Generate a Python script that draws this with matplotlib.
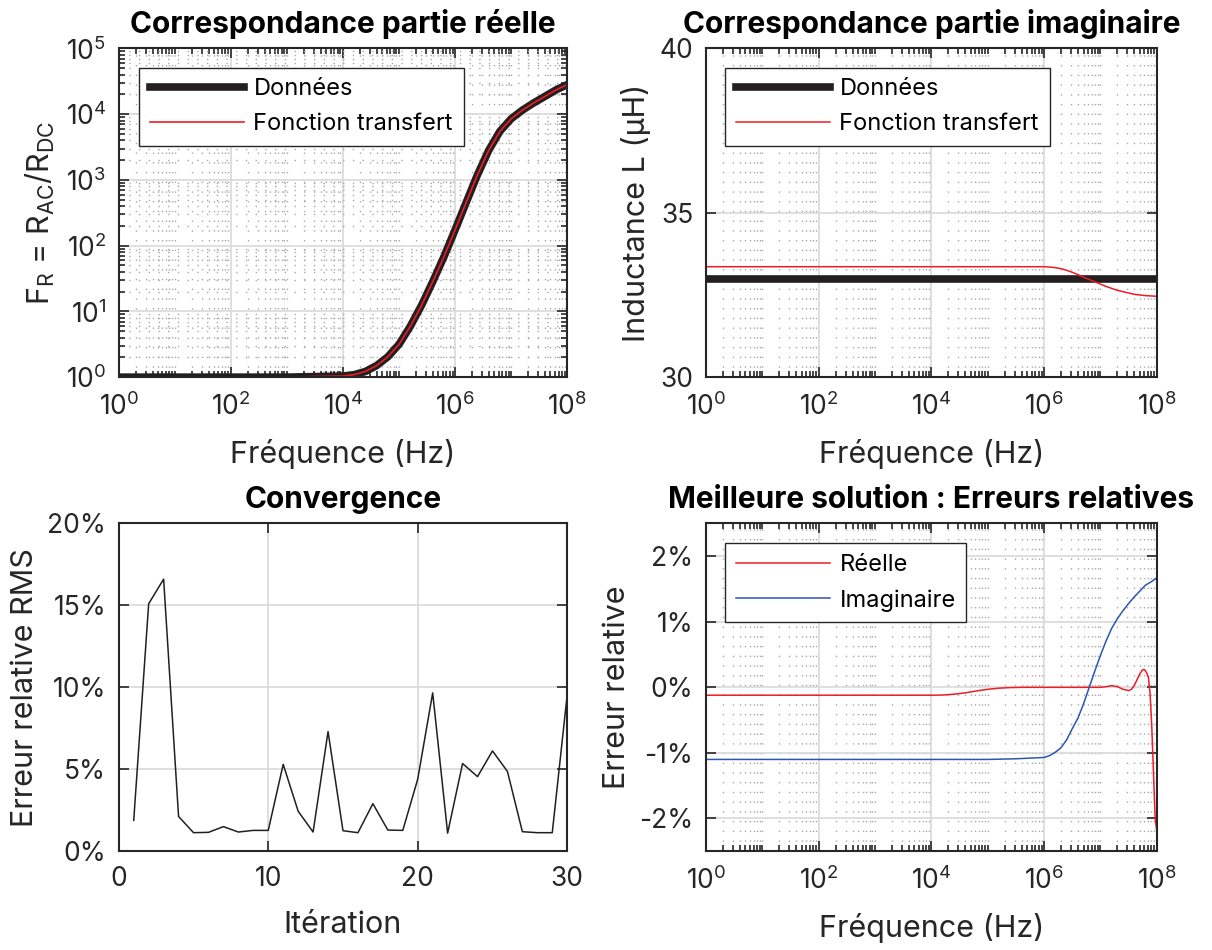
import matplotlib
matplotlib.use('Agg')
import matplotlib.pyplot as plt
from matplotlib.ticker import LogLocator, FuncFormatter, NullFormatter, FixedLocator

plt.rcParams['font.family'] = ['Inter', 'Liberation Sans', 'DejaVu Sans']
plt.rcParams['mathtext.default'] = 'regular'

# --- donnees ---
# partie reelle F_R = Rac/Rdc
f_reel = [1, 10, 100, 1e3, 1e4, 1.58e4, 2.51e4, 3.98e4, 6.31e4, 1e5, 1.58e5, 2.51e5,
          3.98e5, 6.31e5, 1e6, 1.58e6, 2.51e6, 3.98e6, 6.31e6, 1e7, 1.58e7, 2.51e7,
          3.98e7, 6.31e7, 1e8]
fr_donnees = [1.0, 1.0, 1.0, 1.0, 1.04, 1.09, 1.22, 1.50, 2.04, 3.16, 5.89, 12.3,
              28.2, 67.6, 174, 457, 1200, 2820, 5500, 8510, 11500, 14800,
              18600, 23400, 28200]
fr_fonction = [1.0, 1.0, 1.0, 1.0, 1.04, 1.09, 1.22, 1.50, 2.04, 3.16, 5.89, 12.3,
               28.2, 67.6, 174, 457, 1200, 2820, 5500, 8510, 11500, 14800,
               18600, 23400, 28200]

# partie imaginaire : inductance (uH)
f_l_donnees = [1, 1e8]
l_donnees = [33.0, 33.0]
f_l_fonction = [1, 1e2, 1e4, 1e6, 1.26e6, 1.58e6, 2.0e6, 2.51e6, 3.16e6, 3.98e6,
                5.01e6, 6.31e6, 7.94e6, 1e7, 1.26e7, 1.58e7, 2.0e7, 2.51e7, 3.16e7,
                3.98e7, 5.01e7, 6.31e7, 7.94e7, 1e8]
l_fonction = [33.36, 33.36, 33.36, 33.36, 33.35, 33.33, 33.30, 33.25, 33.19, 33.12,
              33.04, 32.97, 32.90, 32.83, 32.76, 32.70, 32.64, 32.60, 32.56,
              32.52, 32.50, 32.48, 32.47, 32.46]

# convergence (erreur RMS en %)
iterations = list(range(1, 31))
erreur_rms = [1.88, 15.1, 16.6, 2.12, 1.13, 1.15, 1.5, 1.17, 1.27, 1.27,
              5.3, 2.44, 1.17, 7.3, 1.25, 1.13, 2.9, 1.29, 1.27, 4.4,
              9.66, 1.1, 5.35, 4.55, 6.12, 4.87, 1.19, 1.13, 1.13, 9.56]

# erreurs relatives de la meilleure solution (%)
f_err_re = [1, 1e2, 1e4, 1.58e4, 2.51e4, 3.98e4, 6.31e4, 1e5, 1.58e5, 2.51e5, 3.98e5,
            1e6, 1e7, 1.26e7, 1.58e7, 2.0e7, 2.51e7, 3.16e7, 3.55e7, 3.98e7, 4.47e7,
            5.01e7, 5.62e7, 6.03e7, 6.61e7, 7.08e7, 7.59e7, 8.13e7, 8.71e7, 9.33e7, 1e8]
err_re = [-0.12, -0.12, -0.12, -0.118, -0.105, -0.085, -0.055, -0.03, -0.013, -0.004,
          0.0, 0.0, 0.0, 0.01, 0.025, 0.01, -0.03, -0.05, -0.03, 0.03, 0.12,
          0.21, 0.27, 0.27, 0.22, 0.15, -0.1, -0.6, -1.3, -2.0, -2.2]
f_err_im = [1, 1e2, 1e4, 1e5, 3.16e5, 1e6, 1.26e6, 1.58e6, 2.0e6, 2.51e6, 3.16e6,
            3.98e6, 5.01e6, 6.31e6, 7.94e6, 1e7, 1.26e7, 1.58e7, 2.0e7, 2.51e7,
            3.16e7, 3.98e7, 5.01e7, 6.31e7, 7.94e7, 1e8]
err_im = [-1.10, -1.10, -1.10, -1.10, -1.09, -1.07, -1.04, -0.99, -0.92, -0.80,
          -0.63, -0.47, -0.25, 0.0, 0.25, 0.49, 0.71, 0.90, 1.05, 1.17,
          1.28, 1.38, 1.47, 1.56, 1.61, 1.67]

GRIS = '#262626'
ROUGE = '#ee1c25'
BLEU = '#2c56b0'
TAILLE = 22
TAILLE_TITRE = 21.5
TAILLE_TICK = 19
TAILLE_LEG = 17


def style_axe(ax, logx=False, logy=False):
    ax.set_axisbelow(True)
    for s in ax.spines.values():
        s.set_color(GRIS)
        s.set_linewidth(1.5)
    ax.tick_params(which='both', direction='in', top=True, right=True,
                   colors=GRIS, labelsize=TAILLE_TICK, width=1.2)
    ax.tick_params(axis='x', which='major', pad=11)
    ax.tick_params(axis='y', which='major', pad=9)
    ax.tick_params(which='major', length=7)
    ax.tick_params(which='minor', length=4)
    ax.grid(True, which='major', color='#d9d9d9', lw=1.2, ls='-')
    if logx:
        ax.set_xscale('log')
        ax.set_xlim(1, 1e8)
        ax.xaxis.set_major_locator(FixedLocator([1, 1e2, 1e4, 1e6, 1e8]))
        ax.xaxis.set_minor_locator(LogLocator(base=10, subs=range(1, 10), numticks=100))
        ax.xaxis.set_minor_formatter(NullFormatter())
        ax.grid(True, which='minor', axis='x', color='#a8a8a8', lw=1.0, ls=(0, (1, 6)))
    if logy:
        ax.grid(True, which='minor', axis='y', color='#a8a8a8', lw=1.0, ls=(0, (1, 6)))


def textes(ax, titre, xlab, ylab):
    ax.set_title(titre, fontsize=TAILLE_TITRE, fontweight='bold', pad=11)
    ax.set_xlabel(xlab, fontsize=TAILLE, color=GRIS, labelpad=13)
    ax.set_ylabel(ylab, fontsize=TAILLE, color=GRIS, labelpad=6)


def legende(ax, x, y):
    ax.legend(loc='upper left', bbox_to_anchor=(x, y), borderaxespad=0,
              fontsize=TAILLE_LEG, handlelength=4.0, handletextpad=0.4,
              labelspacing=0.55, borderpad=0.45, fancybox=False,
              edgecolor=GRIS, framealpha=1)


fig = plt.figure(figsize=(12.12, 9.5), dpi=100)
ax1 = fig.add_axes([0.098, 0.603, 0.370, 0.346])
ax2 = fig.add_axes([0.5825, 0.603, 0.372, 0.346])
ax3 = fig.add_axes([0.098, 0.104, 0.370, 0.345])
ax4 = fig.add_axes([0.5825, 0.104, 0.372, 0.345])

pct = FuncFormatter(lambda v, p: '%g%%' % v)

# Correspondance partie reelle
ax1.set_yscale('log')
ax1.plot(f_reel, fr_donnees, color='#231f20', lw=5.5, label='Données')
ax1.plot(f_reel, fr_fonction, color=ROUGE, lw=1.2, label='Fonction transfert')
style_axe(ax1, logx=True, logy=True)
ax1.set_ylim(1, 1e5)
ax1.yaxis.set_major_locator(LogLocator(base=10, numticks=10))
ax1.yaxis.set_minor_locator(LogLocator(base=10, subs=range(1, 10), numticks=100))
ax1.yaxis.set_minor_formatter(NullFormatter())
textes(ax1, 'Correspondance partie réelle', 'Fréquence (Hz)',
       'F$_R$ = R$_{AC}$/R$_{DC}$')
legende(ax1, 0.045, 0.942)

# Correspondance partie imaginaire
ax2.plot(f_l_donnees, l_donnees, color='#231f20', lw=5.5, label='Données')
ax2.plot(f_l_fonction, l_fonction, color=ROUGE, lw=1.1, label='Fonction transfert')
style_axe(ax2, logx=True)
ax2.set_ylim(30, 40)
ax2.set_yticks([30, 35, 40])
textes(ax2, 'Correspondance partie imaginaire', 'Fréquence (Hz)', 'Inductance L (µH)')
legende(ax2, 0.042, 0.942)

# Convergence
ax3.plot(iterations, erreur_rms, color='#231f20', lw=1.1)
style_axe(ax3)
ax3.set_xlim(0, 30)
ax3.set_ylim(0, 20)
ax3.set_xticks([0, 10, 20, 30])
ax3.set_yticks([0, 5, 10, 15, 20])
ax3.yaxis.set_major_formatter(pct)
textes(ax3, 'Convergence', 'Itération', 'Erreur relative RMS')

# Erreurs relatives
ax4.plot(f_err_re, err_re, color=ROUGE, lw=1.1, label='Réelle')
ax4.plot(f_err_im, err_im, color=BLEU, lw=1.1, label='Imaginaire')
style_axe(ax4, logx=True)
ax4.set_ylim(-2.5, 2.5)
ax4.set_yticks([-2, -1, 0, 1, 2])
ax4.yaxis.set_major_formatter(pct)
textes(ax4, 'Meilleure solution : Erreurs relatives', 'Fréquence (Hz)', 'Erreur relative')
legende(ax4, 0.042, 0.939)

fig.savefig('out.png', dpi=100)
